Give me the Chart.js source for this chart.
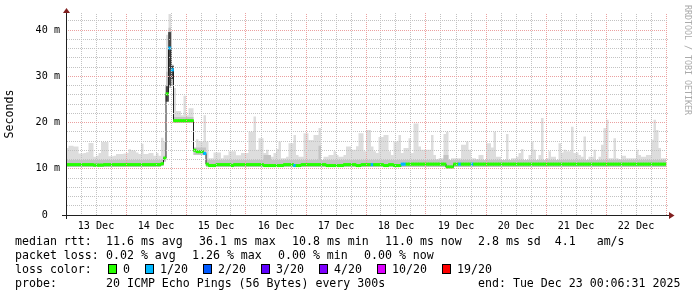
<!DOCTYPE html>
<html>
<head>
<meta charset="utf-8">
<script src="https://cdn.jsdelivr.net/npm/chart.js@4.4.1/dist/chart.umd.min.js"></script>
<style>
body { margin: 0; background: #fff; }
#wrap { position: relative; width: 697px; height: 297px; font-family: 'DejaVu Sans Mono', monospace; font-size: 11.6px; color: #000; }
#wrap canvas { position: absolute; left: 0; top: 0; }
#wrap span { position: absolute; white-space: pre; line-height: 14px; }
.box { position: absolute; width: 7px; height: 8px; border: 1px solid #000; }
#mark { position: absolute; left: 683px; top: 5px; writing-mode: vertical-rl; font-size: 8.3px; line-height: 10px; color: #aaa; white-space: pre; }
</style>
</head>
<body>
<div id="wrap">
  <canvas id="smoke" width="697" height="297"></canvas>
  <div id="mark">RRDTOOL / TOBI OETIKER</div>
</div>
<script>
/**
 * Smokeping latency graph, 10 days, one value per hour from 13 Dec 00:00
 */

const dayLabels = ['13 Dec', '14 Dec', '15 Dec', '16 Dec', '17 Dec', '18 Dec', '19 Dec', '20 Dec', '21 Dec', '22 Dec'];

// top of the smoke (slowest pings), ms
const smokeMax = [
  14.5, 15.0, 15.0, 14.8, 14.8, 13.3, 13.3, 13.4, 13.6, 15.6, 15.6, 12.6, 12.8, 13.4, 15.8, 15.8, 15.8, 12.7, 12.7, 12.8, 13.2, 13.2, 13.2, 13.3,
  13.4, 14.2, 14.0, 13.9, 13.5, 13.2, 15.4, 13.2, 13.2, 13.4, 13.4, 12.8, 13.4, 12.8, 16.7, 16.0, 39.0, 43.5, 32.5, 27.5, 22.5, 22.5, 21.6, 25.8,
  21.6, 23.1, 23.1, 14.1, 16.4, 16.0, 15.9, 21.6, 15.9, 12.3, 12.3, 13.5, 13.5, 13.5, 12.3, 12.9, 12.9, 13.8, 13.8, 13.8, 12.9, 12.9, 13.4, 13.4,
  13.4, 18.0, 18.0, 21.3, 14.1, 16.6, 16.6, 13.4, 14.1, 12.6, 12.6, 13.4, 14.3, 15.9, 12.3, 12.3, 12.6, 15.5, 15.5, 17.3, 13.0, 12.6, 12.6, 17.7,
  17.7, 16.2, 16.2, 17.3, 17.3, 18.8, 11.9, 12.6, 12.6, 13.0, 13.0, 13.8, 13.0, 12.6, 12.6, 13.0, 14.8, 14.8, 14.1, 14.1, 14.9, 17.7, 17.7, 13.8,
  18.4, 18.4, 14.8, 13.8, 13.4, 16.9, 16.9, 17.3, 17.3, 13.8, 13.0, 15.9, 15.9, 17.3, 13.4, 14.5, 14.5, 16.6, 13.4, 19.8, 19.8, 14.8, 14.1, 14.1,
  14.1, 14.1, 17.3, 13.0, 12.1, 12.3, 12.3, 17.5, 18.0, 11.9, 12.3, 12.3, 12.3, 12.3, 15.2, 15.2, 15.9, 14.1, 12.3, 12.3, 12.1, 13.0, 13.0, 11.9,
  15.5, 15.5, 14.6, 18.0, 12.6, 12.6, 11.5, 11.9, 17.5, 11.9, 12.3, 12.3, 12.6, 13.4, 14.3, 11.9, 11.9, 13.0, 15.9, 14.1, 11.9, 13.0, 21.0, 11.9,
  12.3, 13.8, 12.6, 12.6, 11.9, 15.5, 13.5, 14.1, 13.8, 13.8, 19.1, 13.4, 13.5, 13.0, 12.6, 17.0, 11.9, 12.6, 12.6, 14.1, 11.9, 12.6, 15.2, 18.8,
  20.6, 12.3, 12.3, 16.6, 12.3, 12.1, 12.8, 12.8, 12.3, 12.3, 12.3, 12.3, 14.1, 13.0, 12.6, 12.6, 13.0, 13.0, 16.3, 20.6, 18.4, 14.5, 12.3, 12.3
];

// top of the denser smoke near the median, ms
const smokeMid = [
  11.9, 11.9, 11.9, 11.9, 11.9, 11.9, 11.9, 11.9, 11.9, 11.9, 11.9, 11.9, 11.9, 11.9, 11.9, 11.9, 11.9, 11.9, 11.9, 11.9, 11.9, 11.9, 11.9, 11.9,
  11.9, 11.9, 11.9, 11.9, 11.9, 11.9, 11.9, 11.9, 11.9, 11.9, 11.9, 11.9, 11.9, 11.9, 12.0, 12.8, 31.0, 40.5, 32.5, 21.2, 21.2, 21.2, 21.2, 21.2,
  21.2, 21.2, 21.2, 14.6, 14.6, 14.6, 14.6, 14.6, 11.9, 11.9, 11.9, 11.9, 11.9, 11.9, 11.9, 11.9, 11.9, 11.9, 11.9, 11.9, 11.9, 11.9, 11.9, 11.9,
  11.9, 11.9, 11.9, 11.9, 11.9, 11.9, 11.9, 13.0, 13.0, 13.0, 11.9, 11.9, 11.9, 11.9, 11.9, 11.9, 11.9, 11.9, 11.9, 11.9, 11.9, 11.9, 11.9, 11.9,
  11.9, 11.9, 11.9, 11.9, 11.9, 15.0, 11.9, 11.9, 11.9, 11.9, 11.9, 11.9, 11.9, 11.9, 11.9, 11.9, 11.9, 11.9, 11.9, 11.9, 11.9, 11.9, 11.9, 11.9,
  11.9, 11.9, 11.9, 11.9, 11.9, 11.9, 11.9, 11.9, 11.9, 11.9, 11.9, 11.9, 11.9, 11.9, 11.9, 11.9, 11.9, 11.9, 11.9, 11.9, 11.9, 11.9, 11.9, 11.9,
  11.9, 11.9, 11.9, 11.9, 11.9, 11.9, 11.9, 13.0, 13.0, 11.9, 11.9, 11.9, 11.9, 11.9, 11.9, 11.9, 11.9, 11.9, 11.9, 11.9, 11.9, 11.9, 11.9, 11.9,
  11.9, 11.9, 11.9, 11.9, 11.9, 11.9, 11.9, 11.9, 11.9, 11.9, 11.9, 11.9, 11.9, 11.9, 11.9, 11.9, 11.9, 11.9, 11.9, 11.9, 11.9, 11.9, 11.9, 11.9,
  11.9, 11.9, 11.9, 11.9, 11.9, 11.9, 11.9, 11.9, 11.9, 11.9, 11.9, 11.9, 11.9, 11.9, 11.9, 11.9, 11.9, 11.9, 11.9, 11.9, 11.9, 11.9, 11.9, 11.9,
  11.9, 11.9, 11.9, 11.9, 11.9, 11.9, 11.9, 11.9, 11.9, 11.9, 11.9, 11.9, 11.9, 11.9, 11.9, 11.9, 11.9, 11.9, 11.9, 11.9, 11.9, 11.9, 11.9, 11.9
];

// bottom of the smoke (fastest pings), ms
const smokeMin = [
  10.4, 10.4, 10.4, 10.4, 10.4, 10.4, 10.4, 10.4, 10.4, 10.4, 10.4, 10.4, 10.4, 10.4, 10.4, 10.4, 10.4, 10.4, 10.4, 10.4, 10.4, 10.4, 10.4, 10.4,
  10.4, 10.4, 10.4, 10.4, 10.4, 10.4, 10.4, 10.4, 10.4, 10.4, 10.4, 10.4, 10.4, 10.4, 10.6, 11.6, 24.5, 27.5, 27.9, 19.9, 19.9, 19.9, 19.9, 19.9,
  19.9, 19.9, 19.9, 13.0, 13.0, 13.0, 13.0, 13.0, 10.4, 10.4, 10.4, 10.4, 10.4, 10.4, 10.4, 10.4, 10.4, 10.4, 10.4, 10.4, 10.4, 10.4, 10.4, 10.4,
  10.4, 10.4, 10.4, 10.4, 10.4, 10.4, 10.4, 10.4, 10.4, 10.4, 10.4, 10.4, 10.4, 10.4, 10.4, 10.4, 10.4, 10.4, 10.4, 10.4, 10.4, 10.4, 10.4, 10.4,
  10.4, 10.4, 10.4, 10.4, 10.4, 10.4, 10.4, 10.4, 10.4, 10.4, 10.4, 10.4, 10.4, 10.4, 10.4, 10.4, 10.4, 10.4, 10.4, 10.4, 10.4, 10.4, 10.4, 10.4,
  10.4, 10.4, 10.4, 10.4, 10.4, 10.4, 10.4, 10.4, 10.4, 10.4, 10.4, 10.4, 10.4, 10.4, 10.4, 10.4, 10.4, 10.4, 10.4, 10.4, 10.4, 10.4, 10.4, 10.4,
  10.4, 10.4, 10.4, 10.4, 10.4, 10.4, 10.4, 10.4, 10.1, 10.1, 10.1, 10.4, 10.4, 10.4, 10.4, 10.4, 10.4, 10.4, 10.4, 10.4, 10.4, 10.4, 10.4, 10.4,
  10.4, 10.4, 10.4, 10.4, 10.4, 10.4, 10.4, 10.4, 10.4, 10.4, 10.4, 10.4, 10.4, 10.4, 10.4, 10.4, 10.4, 10.4, 10.4, 10.4, 10.4, 10.4, 10.4, 10.4,
  10.4, 10.4, 10.4, 10.4, 10.4, 10.4, 10.4, 10.4, 10.4, 10.4, 10.4, 10.4, 10.4, 10.4, 10.4, 10.4, 10.4, 10.4, 10.4, 10.4, 10.4, 10.4, 10.4, 10.4,
  10.4, 10.4, 10.4, 10.4, 10.4, 10.4, 10.4, 10.4, 10.4, 10.4, 10.4, 10.4, 10.4, 10.4, 10.4, 10.4, 10.4, 10.4, 10.4, 10.4, 10.4, 10.4, 10.4, 10.4
];

// median rtt, ms
const median = [
  10.9, 10.9, 10.9, 10.9, 10.9, 10.9, 10.9, 10.9, 10.9, 10.9, 10.9, 10.8, 10.8, 10.8, 10.8, 10.9, 10.9, 10.9, 10.9, 10.9, 10.9, 10.9, 10.9, 10.9,
  10.9, 10.9, 10.9, 10.9, 10.9, 10.9, 10.9, 10.9, 10.9, 10.9, 10.9, 10.9, 10.9, 10.9, 11.1, 12.3, 26.2, 36.1, 31.4, 20.4, 20.4, 20.4, 20.4, 20.4,
  20.4, 20.4, 20.4, 14.0, 13.7, 13.7, 13.7, 13.3, 11.0, 10.7, 10.7, 10.7, 10.9, 10.9, 10.9, 10.9, 10.9, 10.9, 10.7, 10.9, 10.9, 10.9, 10.9, 10.9,
  10.9, 10.9, 10.9, 10.9, 10.9, 10.9, 10.9, 10.7, 10.7, 10.7, 10.7, 10.7, 10.7, 10.7, 10.7, 10.9, 10.9, 10.9, 10.9, 10.7, 10.7, 10.7, 10.9, 10.9,
  10.9, 10.9, 10.9, 10.9, 10.9, 10.9, 10.9, 10.9, 10.7, 10.7, 10.7, 10.7, 10.7, 10.7, 10.7, 10.9, 10.9, 10.9, 10.9, 10.9, 10.7, 10.7, 10.9, 10.9,
  10.9, 10.9, 10.9, 10.9, 10.9, 10.9, 10.9, 10.7, 10.7, 10.9, 10.9, 10.7, 10.7, 10.7, 11.0, 11.0, 11.0, 11.0, 11.0, 11.0, 11.0, 11.0, 11.0, 11.0,
  11.0, 11.0, 11.0, 11.0, 11.0, 11.0, 11.0, 11.0, 10.4, 10.4, 10.4, 11.0, 11.0, 11.0, 11.0, 11.0, 11.0, 11.0, 11.0, 11.0, 11.0, 11.0, 11.0, 11.0,
  11.0, 11.0, 11.0, 11.0, 11.0, 11.0, 11.0, 11.0, 11.0, 11.0, 11.0, 11.0, 11.0, 11.0, 11.0, 11.0, 11.0, 11.0, 11.0, 11.0, 11.0, 11.0, 11.0, 11.0,
  11.0, 11.0, 11.0, 11.0, 11.0, 11.0, 11.0, 11.0, 11.0, 11.0, 11.0, 11.0, 11.0, 11.0, 11.0, 11.0, 11.0, 11.0, 11.0, 11.0, 11.0, 11.0, 11.0, 11.0,
  11.0, 11.0, 11.0, 11.0, 11.0, 11.0, 11.0, 11.0, 11.0, 11.0, 11.0, 11.0, 11.0, 11.0, 11.0, 11.0, 11.0, 11.0, 11.0, 11.0, 11.0, 11.0, 11.0, 11.0
];

// darkest smoke during the spike on 14 Dec
const coreHours = [40, 41, 42];
const coreLow = [24.6, 28.0, 29.5];
const coreHigh = [27.8, 39.5, 32.2];

// hours with lost pings (out of 20)
const lossHours = [41, 42, 55, 91, 122, 134, 135, 157, 162];
const lossCount = [1, 1, 1, 1, 1, 1, 1, 1, 1];

const lossSteps = [0, 1, 2, 3, 4, 10, 19];
const lossColors = ['#26ff00', '#00b8ff', '#0059ff', '#5e00ff', '#7e00ff', '#dd00ff', '#ff0000'];

const rttStats = ['11.6 ms avg', '36.1 ms max', '10.8 ms min', '11.0 ms now', '2.8 ms sd  4.1   am/s'];
const lossStats = ['0.02 % avg', '1.26 % max', '0.00 % min', '0.00 % now'];
const probeText = '20 ICMP Echo Pings (56 Bytes) every 300s';
const endText = 'end: Tue Dec 23 00:06:31 2025';

const MONO = 'DejaVu Sans Mono';
const BAND = 0.26;

const ctx = document.getElementById('smoke').getContext('2d');

// rrdtool style dotted grid: every other pixel of a 1px line
function dots(color) {
    const c = document.createElement('canvas');
    c.width = 2;
    c.height = 2;
    const g = c.getContext('2d');
    g.fillStyle = color;
    g.fillRect(0, 0, 1, 1);
    g.fillRect(1, 1, 1, 1);
    return ctx.createPattern(c, 'repeat');
}
const GRID = dots('#c2c2c2');
const MGRID = dots('#eba0a0');

function steps(arr) {
    const pts = arr.map((v, i) => ({x: i, y: v}));
    pts.push({x: arr.length, y: arr[arr.length - 1]});
    return pts;
}

function lossColor(h) {
    const k = lossHours.indexOf(h);
    const n = k < 0 ? 0 : lossCount[k];
    let c = lossColors[0];
    lossSteps.forEach((s, i) => { if (n >= s) c = lossColors[i]; });
    return c;
}

const rrdAxes = {
    id: 'rrdAxes',
    afterDraw(chart) {
        const g = chart.ctx;
        const a = chart.chartArea;
        g.save();
        g.fillStyle = '#1f1f1f';
        g.fillRect(a.left, a.top - 2, 1, a.bottom - a.top + 6);
        g.fillRect(a.left - 4, a.bottom, a.right - a.left + 5, 1);
        g.fillStyle = '#801f1f';
        g.beginPath();
        g.moveTo(a.left - 3, a.top);
        g.lineTo(a.left + 4, a.top);
        g.lineTo(a.left + 0.5, a.top - 5);
        g.fill();
        g.beginPath();
        g.moveTo(a.right + 1, a.bottom - 3);
        g.lineTo(a.right + 1, a.bottom + 4);
        g.lineTo(a.right + 6.5, a.bottom + 0.5);
        g.fill();
        g.restore();
    }
};

const smoke = new Chart(ctx, {
    type: 'line',
    data: {
        datasets: [{
            data: steps(smokeMin),
            stepped: true,
            borderWidth: 0,
            borderColor: 'rgba(0,0,0,0)',
            pointRadius: 0,
            fill: false,
            order: 6
        }, {
            data: steps(smokeMax),
            stepped: true,
            borderWidth: 0,
            borderColor: 'rgba(0,0,0,0)',
            backgroundColor: '#dddddd',
            pointRadius: 0,
            fill: '-1',
            order: 5
        }, {
            data: steps(smokeMid),
            stepped: true,
            borderWidth: 0,
            borderColor: 'rgba(0,0,0,0)',
            backgroundColor: '#c4c4c4',
            pointRadius: 0,
            fill: '-2',
            order: 4
        }, {
            type: 'bar',
            data: coreHours.map((h, i) => ({x: h + 0.5, y: [coreLow[i], coreHigh[i]]})),
            backgroundColor: '#474747',
            barPercentage: 1,
            categoryPercentage: 1,
            grouped: false,
            order: 3
        }, {
            data: steps(median),
            stepped: true,
            borderWidth: 1,
            borderColor: '#202020',
            pointRadius: 0,
            fill: false,
            order: 2
        }, {
            type: 'bar',
            data: median.map((m, i) => ({x: i + 0.5, y: [m - BAND, m + BAND]})),
            backgroundColor: c => lossColor(c.dataIndex),
            barPercentage: 1,
            categoryPercentage: 1,
            grouped: false,
            order: 1
        }]
    },
    options: {
        responsive: false,
        animation: false,
        events: [],
        layout: {padding: {left: 0, right: 29, top: 13, bottom: 62}},
        plugins: {legend: {display: false}, tooltip: {enabled: false}},
        scales: {
            x: {
                type: 'linear',
                min: 0,
                max: 240.8,
                bounds: 'data',
                offset: false,
                afterBuildTicks: s => {
                    s.ticks = [];
                    for (let h = 0; h <= dayLabels.length * 24; h += 6) s.ticks.push({value: h});
                },
                afterFit: s => { s.height = 20; },
                ticks: {
                    autoSkip: false,
                    maxRotation: 0,
                    minRotation: 0,
                    padding: 5,
                    color: '#000',
                    font: {family: MONO, size: 10.15},
                    callback: v => (v % 24 === 12 ? dayLabels[(v - 12) / 24] : '')
                },
                grid: {
                    offset: false,
                    drawTicks: false,
                    z: 1,
                    color: c => (c.tick && c.tick.value % 24 === 0 ? MGRID : GRID)
                },
                border: {display: false}
            },
            y: {
                min: 0,
                max: 43.7,
                bounds: 'data',
                afterBuildTicks: s => {
                    s.ticks = [];
                    for (let v = 0; v <= 42; v += 2) s.ticks.push({value: v});
                },
                afterFit: s => { s.width = 66; },
                ticks: {
                    autoSkip: false,
                    padding: 6,
                    color: '#000',
                    font: {family: MONO, size: 10.15},
                    callback: v => (v % 10 === 0 ? (v === 0 ? '0  ' : v + ' m') : '')
                },
                title: {
                    display: true,
                    text: 'Seconds',
                    color: '#000',
                    font: {family: MONO, size: 11.6},
                    padding: {top: 3, bottom: 0}
                },
                grid: {
                    drawTicks: false,
                    z: 1,
                    color: c => (c.tick && c.tick.value % 10 === 0 ? MGRID : GRID)
                },
                border: {display: false}
            }
        }
    },
    plugins: [rrdAxes]
});

// legend lines under the graph
const wrap = document.getElementById('wrap');

function put(text, left, base) {
    const s = document.createElement('span');
    s.textContent = text;
    s.style.left = left + 'px';
    s.style.top = (base - 11) + 'px';
    wrap.appendChild(s);
}

put('median rtt:', 15, 244.7);
rttStats.forEach((t, i) => put(t, 106 + 93 * i, 244.7));
put('packet loss:', 15, 258.7);
lossStats.forEach((t, i) => put(t, 106 + 86 * i, 258.7));
put('loss color:', 15, 272.7);
let lx = 108;
lossSteps.forEach((n, i) => {
    const b = document.createElement('div');
    b.className = 'box';
    b.style.left = lx + 'px';
    b.style.top = '264px';
    b.style.background = lossColors[i];
    wrap.appendChild(b);
    const label = n === 0 ? '0' : n + '/20';
    put(label, lx + 15, 272.7);
    lx += 15 + label.length * 7 + 15;
});
put('probe:', 15, 286.7);
put(probeText, 106, 286.7);
put(endText, 478, 286.7);
</script>
</body>
</html>
